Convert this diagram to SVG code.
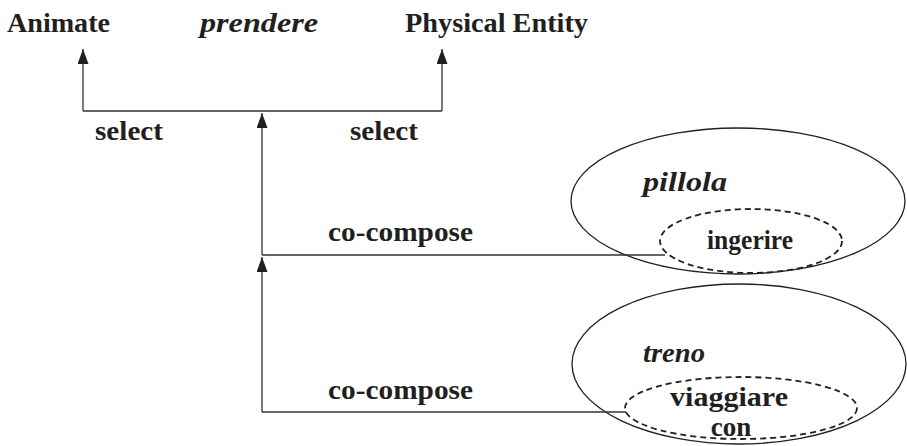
<svg xmlns="http://www.w3.org/2000/svg" width="907" height="446" viewBox="0 0 907 446">
<style>
text{font-family:"Liberation Serif","DejaVu Serif",serif;font-weight:bold;font-size:27px;fill:#231f20}
.it{font-style:italic}
.ln{fill:none;stroke:#333;stroke-width:1.3}
.el{fill:none;stroke:#231f20;stroke-width:1.3}
.da{fill:none;stroke:#231f20;stroke-width:1.8;stroke-dasharray:6 4}
</style>
<defs>
<marker id="ah" viewBox="0 0 15 11" refX="15" refY="5.5" markerWidth="15" markerHeight="11" markerUnits="userSpaceOnUse" orient="auto">
<path d="M0,0 L15,5.5 L0,11 Z" fill="#231f20"/>
</marker>
</defs>
<g id="animate"><text x="7" y="32" textLength="103" lengthAdjust="spacingAndGlyphs">Animate</text></g>
<g id="prendere"><text class="it" x="200" y="32" textLength="118" lengthAdjust="spacingAndGlyphs">prendere</text></g>
<g id="physical"><text x="405" y="32" textLength="183" lengthAdjust="spacingAndGlyphs">Physical Entity</text></g>
<g id="pillola">
<ellipse class="el" cx="738" cy="201" rx="167" ry="73"/>
<text class="it" x="643" y="191" textLength="84" lengthAdjust="spacingAndGlyphs">pillola</text>
</g>
<g id="ingerire">
<ellipse class="da" cx="751" cy="241" rx="91" ry="32"/>
<text x="707" y="249" textLength="86" lengthAdjust="spacingAndGlyphs">ingerire</text>
</g>
<g id="treno">
<ellipse class="el" cx="739" cy="364" rx="167" ry="80"/>
<text class="it" x="643" y="362" textLength="62" lengthAdjust="spacingAndGlyphs">treno</text>
</g>
<g id="viaggiare">
<ellipse class="da" cx="741" cy="408" rx="116" ry="31"/>
<text x="670" y="406" textLength="118" lengthAdjust="spacingAndGlyphs">viaggiare</text>
<text x="731" y="436" text-anchor="middle">con</text>
</g>
<g id="connectors">
<path class="ln" d="M83,111 V49" marker-end="url(#ah)"/>
<path class="ln" d="M442,111 V49" marker-end="url(#ah)"/>
<path class="ln" d="M83,111 H442"/>
<path class="ln" d="M262,255 V113" marker-end="url(#ah)"/>
<path class="ln" d="M665,255 H262"/>
<path class="ln" d="M262,412 V257" marker-end="url(#ah)"/>
<path class="ln" d="M626,412 H262"/>
<text x="95" y="140" textLength="68" lengthAdjust="spacingAndGlyphs">select</text>
<text x="350" y="140" textLength="68" lengthAdjust="spacingAndGlyphs">select</text>
<text x="328" y="241" textLength="145" lengthAdjust="spacingAndGlyphs">co-compose</text>
<text x="328" y="399" textLength="145" lengthAdjust="spacingAndGlyphs">co-compose</text>
</g>
</svg>
